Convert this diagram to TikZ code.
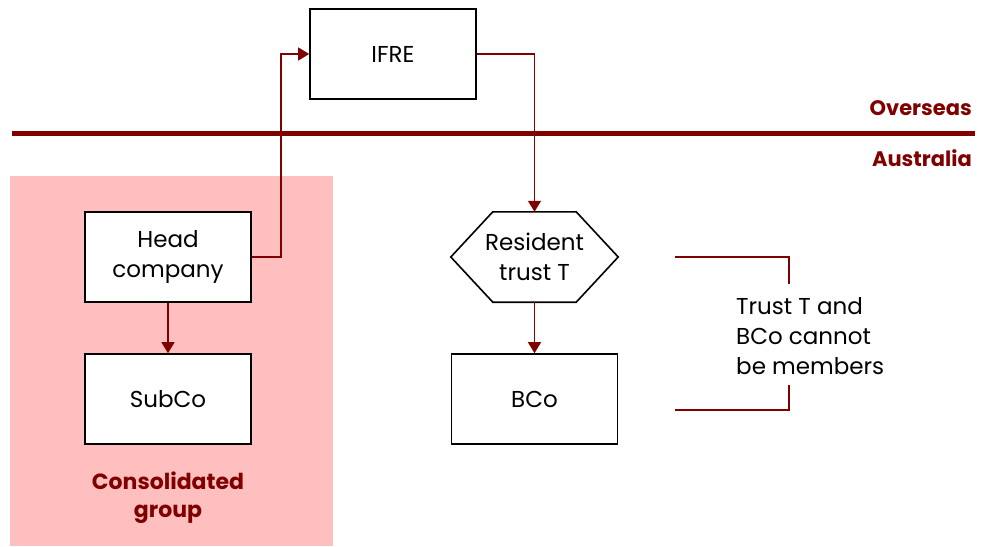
\documentclass[tikz,border=0pt]{standalone}
\usepackage{fontspec}
\setmainfont{Poppins}
\usetikzlibrary{arrows.meta}
\definecolor{dred}{HTML}{800000}
\definecolor{pinkbg}{HTML}{FFBFBF}
\begin{document}
\begin{tikzpicture}[x=1pt,y=-1pt,
  box/.style={draw=black,line width=1.6pt,fill=white,minimum width=166pt,minimum height=90pt,inner sep=0pt,align=center,font=\fontsize{23}{30}\selectfont},
  hexnode/.style={minimum width=167pt,minimum height=90pt,inner sep=0pt,align=center,font=\fontsize{23}{30}\selectfont},
  hexline/.style={draw=black,line width=1.6pt,line join=miter},
  conn/.style={draw=dred,line width=1.3pt},
  arr/.style={conn,-{Triangle[length=11pt,width=13pt]}},
  region/.style={font=\fontsize{21}{28}\selectfont\bfseries,text=dred},
  every node/.style={inner sep=0pt}]
\useasboundingbox (0,0) rectangle (982,546);
\fill[pinkbg] (10,176) rectangle (333,546);
\draw[dred,line width=5pt] (12,133) -- (975,133);
\node[region,anchor=east] (ov) at (972,108) {Overseas};
\node[region,anchor=east] (au) at (972,158) {Australia};
\node[box] (ifre) at (393,54) {IFRE};
\node[box] (head) at (168,257) {Head\\company};
\node[box] (sub) at (168,399) {SubCo};
\node[hexnode] (trust) at (534.5,257) {Resident\\trust T};
\draw[hexline] (trust.west) -- ([xshift=42pt]trust.north west) -- ([xshift=-42pt]trust.north east) -- (trust.east) -- ([xshift=-42pt]trust.south east) -- ([xshift=42pt]trust.south west) -- cycle;
\node[box] (bco) at (534.5,399) {BCo};
\node[region,align=center,font=\fontsize{22}{28}\selectfont\bfseries] (cg) at (168,498) {Consolidated\\group};
\node[anchor=west,align=left,font=\fontsize{23}{30}\selectfont] (note) at (736,336) {Trust T and\\BCo cannot\\be members};
\coordinate (b1) at (675,257);
\coordinate (b2) at (789,257);
\coordinate (b3) at (789,284);
\coordinate (b4) at (789,385);
\coordinate (b5) at (789,410);
\coordinate (b6) at (675,410);
\draw[arr] (head.east) -- (281,257) |- (ifre.west);
\draw[arr] (ifre.east) -| (trust.north);
\draw[arr] (head.south) -- (sub.north);
\draw[arr] (trust.south) -- (bco.north);
\draw[conn] (b1) -- (b2) -- (b3);
\draw[conn] (b4) -- (b5) -- (b6);
\end{tikzpicture}
\end{document}
